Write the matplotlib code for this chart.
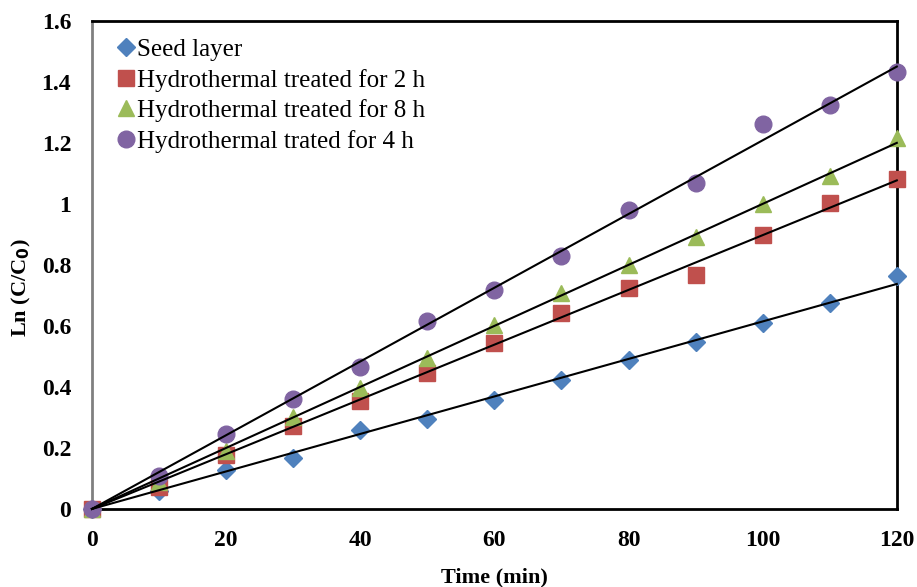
import numpy as np
import matplotlib.pyplot as plt

plt.rcParams['font.family'] = ['Liberation Serif', 'DejaVu Serif']

time = [0, 10, 20, 30, 40, 50, 60, 70, 80, 90, 100, 110, 120]
seed = [0, 0.06, 0.128, 0.167, 0.26, 0.295, 0.357, 0.423, 0.49, 0.547, 0.61, 0.675, 0.764]
h2 = [0, 0.072, 0.177, 0.272, 0.354, 0.446, 0.544, 0.643, 0.725, 0.767, 0.90, 1.003, 1.082]
h8 = [0, 0.088, 0.19, 0.30, 0.397, 0.495, 0.603, 0.708, 0.80, 0.892, 1.0, 1.092, 1.216]
h4 = [0, 0.108, 0.246, 0.36, 0.466, 0.616, 0.718, 0.83, 0.98, 1.069, 1.262, 1.325, 1.433]

labels = ['Seed layer', 'Hydrothermal treated for 2 h',
          'Hydrothermal treated for 8 h', 'Hydrothermal trated for 4 h']
series = [seed, h2, h8, h4]
colors = ['#4F81BD', '#C0504D', '#9BBB59', '#8064A2']
markers = ['D', 's', '^', 'o']
msizes = [9, 11.5, 12, 12]

fig = plt.figure(figsize=(9.17, 5.87), dpi=100)
ax = fig.add_axes([0.1003, 0.133, 0.8777, 0.831])

x = np.array(time, dtype=float)
for ys, lab, c, m, ms in zip(series, labels, colors, markers, msizes):
    ax.plot(time, ys, ls='none', marker=m, ms=ms, color=c, label=lab,
            clip_on=False, zorder=3)

# linear trendlines through the origin
for ys in series:
    y = np.array(ys)
    k = (x * y).sum() / (x * x).sum()
    ax.plot([0, 120], [0, k * 120], color='black', lw=1.5, zorder=4,
            clip_on=False)

ax.set_xlim(0, 120)
ax.set_ylim(0, 1.6)
ax.set_xticks(range(0, 121, 20))
ax.set_yticks([0, 0.2, 0.4, 0.6, 0.8, 1, 1.2, 1.4, 1.6])
ax.set_yticklabels(['0', '0.2', '0.4', '0.6', '0.8', '1', '1.2', '1.4', '1.6'])
ax.tick_params(length=0, labelsize=17)
ax.tick_params(axis='y', pad=15)
ax.tick_params(axis='x', pad=15)
for t in ax.get_xticklabels() + ax.get_yticklabels():
    t.set_fontweight('bold')

for s in ['top', 'bottom', 'right']:
    ax.spines[s].set_color('black')
    ax.spines[s].set_linewidth(2)
ax.spines['left'].set_color('#808080')
ax.spines['left'].set_linewidth(2)

ax.set_xlabel('Time (min)', fontsize=16, fontweight='bold', labelpad=12)
ax.set_ylabel('Ln (C/C$_\\mathbf{0}$)', fontsize=16, fontweight='bold')
ax.yaxis.set_label_coords(-0.073, 0.453)

ax.legend(loc='upper left', frameon=False, fontsize=18, handlelength=0.8,
          handletextpad=0.05, labelspacing=0.3, borderaxespad=0.3,
          bbox_to_anchor=(0.008, 1.0))

plt.savefig('out.png', dpi=100)
